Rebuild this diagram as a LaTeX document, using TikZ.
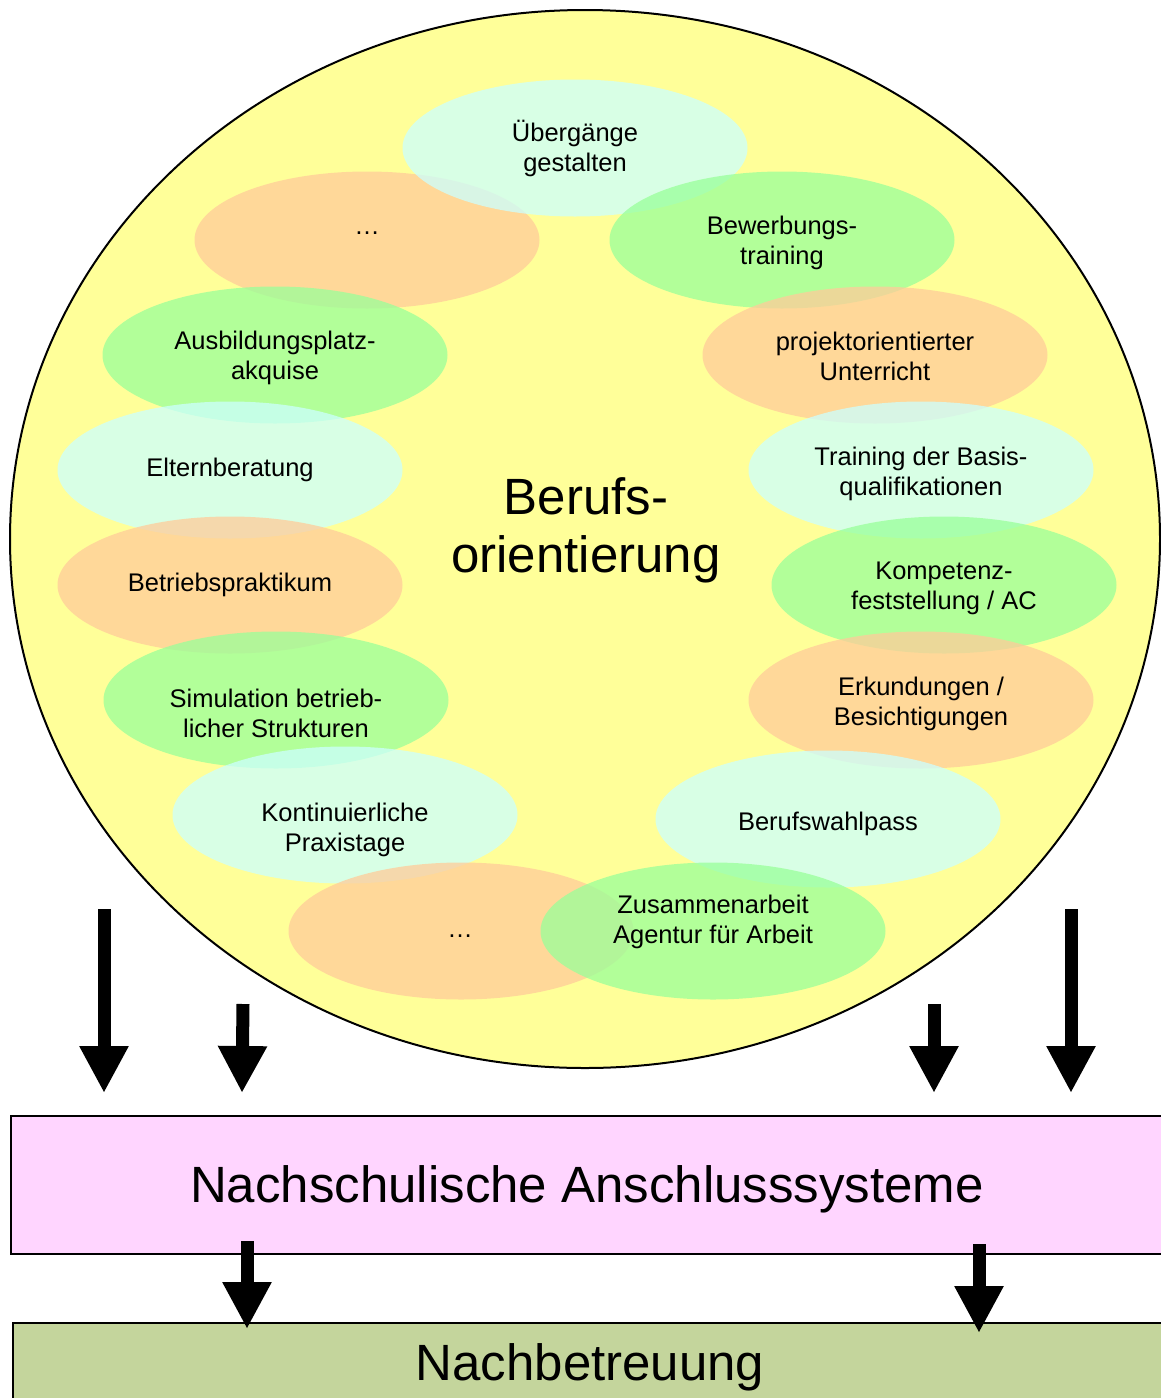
\documentclass[tikz,border=0pt]{standalone}
\usepackage{fontspec}
\setmainfont{Liberation Sans}
\usetikzlibrary{shapes.geometric,arrows.meta}
\definecolor{circfill}{HTML}{FFFF99}
\definecolor{mintc}{HTML}{CCFFFF}
\definecolor{greenc}{HTML}{99FF99}
\definecolor{orangec}{HTML}{FFCC99}
\definecolor{pinkbox}{HTML}{FFD5FF}
\definecolor{greenbox}{HTML}{C4D59C}
\tikzset{
  blob/.style={ellipse, minimum width=345pt, minimum height=137pt, inner sep=0pt,
    fill opacity=0.75},
  mintblob/.style={blob, fill=mintc},
  greenblob/.style={blob, fill=greenc},
  orangeblob/.style={blob, fill=orangec},
  lbl/.style={align=center, inner sep=0pt, font=\fontsize{25.5}{30}\selectfont},
  biglbl/.style={align=center, inner sep=0pt, font=\fontsize{51}{58}\selectfont},
  bigarrow/.style={line width=13pt, -{Triangle[width=46pt,length=47pt]}},
  bar/.style={draw=black, line width=1.5pt, inner sep=0pt, anchor=north west}
}
\begin{document}
\begin{tikzpicture}[x=1pt,y=-1pt]
\clip (0,0) rectangle (1161,1398);
\fill[white] (0,0) rectangle (1161,1398);
% big circle
\node[ellipse, draw=black, line width=2pt, fill=circfill, minimum width=1150pt, minimum height=1058pt, inner sep=0pt] (circ) at (585,539) {};
% ellipses
\node[orangeblob] (e1) at (367,240) {};
\node[mintblob] (e2) at (575,148) {};
\node[greenblob] (e3) at (782,240) {};
\node[greenblob] (e4) at (275,355) {};
\node[orangeblob] (e5) at (875,355) {};
\node[mintblob] (e6) at (230,470) {};
\node[mintblob] (e7) at (921,470) {};
\node[orangeblob] (e8) at (230,585) {};
\node[greenblob] (e9) at (944,585) {};
\node[greenblob] (e10) at (276,700) {};
\node[orangeblob] (e11) at (921,700) {};
\node[mintblob] (e12) at (345,815) {};
\node[mintblob] (e13) at (828,819) {};
\node[orangeblob] (e14) at (461,931) {};
\node[greenblob] (e15) at (713,931) {};
% labels
\node[lbl] (t1) at (367,233) {…};
\node[lbl] (t2) at (575,148) {Übergänge\\gestalten};
\node[lbl] (t3) at (782,243) {Bewerbungs-\\training};
\node[lbl] (t4) at (275,358) {Ausbildungsplatz-\\akquise};
\node[lbl] (t5) at (875,356) {projektorientierter\\Unterricht};
\node[lbl] (t6) at (230,470) {Elternberatung};
\node[lbl] (t7) at (921,474) {Training der Basis-\\qualifikationen};
\node[lbl] (t8) at (230,585) {Betriebspraktikum};
\node[lbl] (t9) at (944,588) {Kompetenz-\\feststellung / AC};
\node[lbl] (t10) at (276,713) {Simulation betrieb-\\licher Strukturen};
\node[lbl] (t11) at (921,704) {Erkundungen /\\Besichtigungen};
\node[lbl] (t12) at (345,830) {Kontinuierliche\\Praxistage};
\node[lbl] (t13) at (828,824) {Berufswahlpass};
\node[lbl] (t14) at (460,936) {…};
\node[lbl] (t15) at (713,922) {Zusammenarbeit\\Agentur für Arbeit};
% center title
\node[biglbl] (title) at (586,530) {Berufs-\\orientierung};
% boxes
\node[bar, fill=pinkbox, minimum width=1170pt, minimum height=138pt] (b1) at (10,1115) {};
\node[biglbl] (b1t) at (587,1189) {Nachschulische Anschlusssysteme};
\node[bar, fill=greenbox, minimum width=1170pt, minimum height=100pt] (b2) at (12,1322) {};
\node[biglbl] (b2t) at (590,1367) {Nachbetreuung};
% arrows
\coordinate (a1s) at (104,909); \coordinate (a1e) at (104,1093);
\coordinate (a2s) at (243,1004); \coordinate (a2e) at (242,1093);
\coordinate (a3s) at (934,1004); \coordinate (a3e) at (934,1093);
\coordinate (a4s) at (1071,909); \coordinate (a4e) at (1071,1093);
\coordinate (a5s) at (247,1241); \coordinate (a5e) at (247,1329);
\coordinate (a6s) at (979,1244); \coordinate (a6e) at (979,1333);
\draw[bigarrow] (a1s) -- (a1e);
\draw[bigarrow] (a2s) -- (a2e);
\draw[bigarrow] (a3s) -- (a3e);
\draw[bigarrow] (a4s) -- (a4e);
\draw[bigarrow] (a5s) -- (a5e);
\draw[bigarrow] (a6s) -- (a6e);
\end{tikzpicture}
\end{document}
